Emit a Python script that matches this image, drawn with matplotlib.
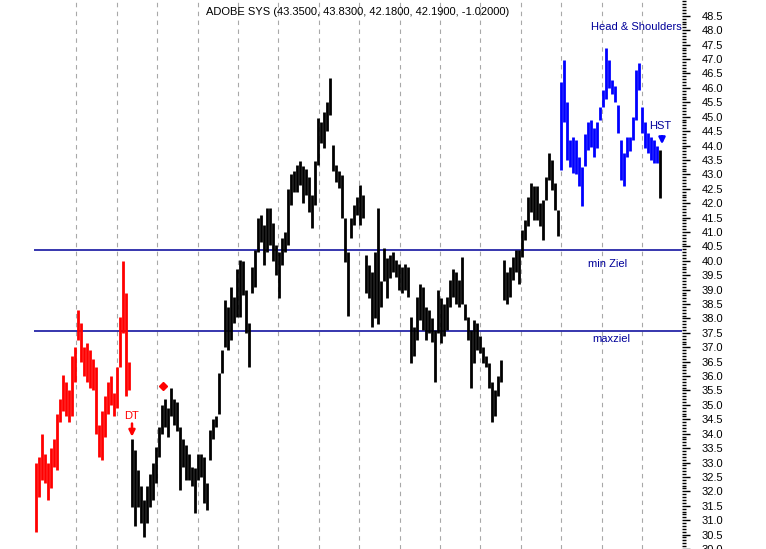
import numpy as np
import matplotlib.pyplot as plt
from matplotlib.ticker import MultipleLocator, FixedLocator, FormatStrFormatter

plt.rcParams['font.family'] = ['Liberation Sans', 'DejaVu Sans']

# daily low / high, one bar per entry
# red part (double top)
red_lows = [30.6, 31.8, 32.4, 32.3, 31.7, 32.1, 32.85, 32.75, 34.4, 34.8,
            34.6, 34.4, 34.6, 35.8, 37.26, 36.5, 36.0, 35.8, 35.6, 35.5,
            34.0, 33.2, 33.1, 33.9, 34.7, 35.0, 34.6, 34.9, 36.3, 37.5,
            35.3, 35.5]
red_highs = [33.0, 33.2, 34.0, 33.3, 33.0, 33.5, 33.8, 34.7, 35.2, 36.05,
             35.8, 35.5, 36.7, 37.0, 38.3, 37.85, 37.0, 37.15, 36.9, 36.6,
             36.3, 34.3, 34.8, 35.3, 35.8, 36.0, 35.4, 36.3, 38.05, 40.0,
             38.9, 36.5]

# black middle part
mid_lows = [31.45, 30.8, 31.45, 30.9, 30.4, 30.9, 31.45, 31.7, 32.3, 33.2,
            34.0, 34.25, 33.9, 34.6, 34.3, 34.1, 32.06, 32.85, 32.4, 32.4,
            32.2, 31.25, 32.4, 32.5, 31.6, 31.36, 33.1, 33.8, 34.25, 34.7,
            36.1, 37.0, 36.9, 37.26, 37.85, 38.05, 38.05, 38.8, 37.5, 36.3,
            38.9, 39.1, 40.3, 40.66, 39.86, 40.3, 40.55, 40.0, 39.5, 38.7,
            39.86, 40.3, 40.55, 41.95, 42.4, 42.4, 42.64, 42.0, 42.3, 41.7,
            41.15, 41.95, 43.33, 44.1, 43.9, 44.5, 45.06, 43.1, 42.74, 42.53,
            41.5, 39.97, 38.1, 40.8, 41.25, 41.6, 41.25, 41.5, 38.9, 38.7,
            37.7, 38.0, 37.8, 38.4, 39.3, 38.7, 39.4, 39.6, 39.45, 39.0,
            38.9, 39.0, 38.75, 36.45, 36.7, 37.26, 37.95, 37.6, 37.26, 37.5,
            37.2, 35.8, 37.5, 37.15, 37.4, 37.6, 38.4, 38.75, 38.5, 38.4,
            38.5, 37.95, 37.26, 35.6, 36.45, 36.9, 36.8, 36.45, 36.3, 35.6,
            34.4, 34.6, 35.3, 35.8, 38.65, 38.5, 38.75, 39.34, 39.6, 39.2,
            40.14, 40.73, 41.2, 41.7, 41.4, 41.4, 41.2, 40.73, 42.1, 42.8,
            42.46, 41.77, 40.85]
mid_highs = [33.8, 33.45, 32.75, 32.2, 31.7, 32.2, 32.6, 33.0, 33.55, 34.25,
             35.0, 35.2, 34.9, 35.6, 35.2, 35.1, 34.25, 33.8, 33.6, 33.3,
             32.85, 32.8, 33.3, 33.3, 33.2, 32.3, 34.14, 34.5, 34.6, 36.1,
             36.9, 38.65, 38.4, 39.1, 38.75, 39.7, 40.04, 40.0, 39.0, 37.85,
             39.8, 40.38, 41.5, 41.6, 41.25, 41.84, 41.84, 41.3, 40.55, 40.3,
             40.8, 41.0, 42.5, 43.0, 43.1, 43.33, 43.45, 43.3, 43.2, 42.9,
             42.3, 43.45, 44.96, 44.8, 45.17, 45.5, 46.35, 44.03, 43.33, 43.1,
             42.98, 41.5, 40.3, 41.5, 41.95, 42.2, 42.64, 42.3, 40.2, 39.86,
             39.6, 40.3, 41.84, 39.3, 40.45, 40.1, 40.2, 40.3, 40.04, 39.9,
             39.8, 39.9, 39.8, 38.05, 37.7, 38.75, 39.2, 39.1, 38.4, 38.3,
             38.0, 37.6, 38.99, 38.7, 38.5, 38.75, 39.34, 39.7, 39.6, 39.34,
             40.14, 38.5, 38.05, 37.6, 37.95, 37.85, 37.4, 37.0, 36.7, 36.45,
             35.8, 35.5, 36.0, 36.57, 40.04, 39.6, 39.8, 40.14, 40.38, 40.38,
             41.08, 41.42, 42.2, 42.7, 42.6, 42.6, 42.0, 42.1, 42.9, 43.75,
             43.5, 42.7, 41.77]

# blue part (head & shoulders)
hs_lows = [43.16, 44.8, 43.5, 43.27, 43.05, 43.0, 42.6, 41.9, 43.3, 43.85,
           43.95, 43.6, 43.9, 44.9, 45.34, 45.6, 46.0, 45.8, 45.5, 44.44,
           42.8, 42.6, 43.6, 43.8, 44.2, 44.9, 45.93, 44.44, 43.9, 43.75,
           43.5, 43.4, 43.4]
hs_highs = [46.2, 46.97, 45.5, 44.2, 44.3, 44.2, 43.6, 43.25, 44.4, 44.8,
            44.9, 44.6, 44.8, 45.34, 45.93, 47.4, 46.97, 46.28, 46.05, 45.4,
            44.2, 43.75, 44.3, 44.3, 45.0, 46.63, 46.87, 45.34, 44.8, 44.44,
            44.3, 44.2, 44.0]

# last bar: O 43.35 H 43.83 L 42.18 C 42.19
last_low = [42.18]
last_high = [43.83]

min_ziel = 40.38
max_ziel = 37.57

lows = red_lows + mid_lows + hs_lows + last_low
highs = red_highs + mid_highs + hs_highs + last_high
colors = (['#ff0000'] * len(red_lows) + ['black'] * len(mid_lows)
          + ['#0000ff'] * len(hs_lows) + ['black'] * len(last_low))
x = np.arange(len(lows))

fig = plt.figure(figsize=(7.66, 5.49), dpi=100)
ax = fig.add_axes([34 / 766, 0, (682 - 34) / 766, 1])

# vertical dashed grid
for k in range(1, 17):
    ax.axvline(13.467 * k, color='#a8a8a8', lw=0.8, ls=(0, (4, 4)), zorder=0)

ax.axhline(min_ziel, color='#000099', lw=1.1, zorder=1)
ax.axhline(max_ziel, color='#000099', lw=1.1, zorder=1)

ax.vlines(x, lows, highs, colors=colors, linewidth=2.0, zorder=2)

ax.set_xlim(-2 / 3, 215.33)
ax.set_ylim(30.0, 49.05)

ax.yaxis.tick_right()
ax.yaxis.set_major_locator(FixedLocator(np.arange(30.0, 48.51, 0.5)))
ax.yaxis.set_minor_locator(MultipleLocator(0.1))
ax.yaxis.set_major_formatter(FormatStrFormatter('%.1f'))
ax.tick_params(axis='y', which='major', length=6, width=1, pad=8, labelsize=8)
ax.tick_params(axis='y', which='minor', length=3, width=1)
ax.set_xticks([])
for s in ['left', 'top', 'bottom', 'right']:
    ax.spines[s].set_visible(False)

# annotations
ax.text(31.67, 34.63, 'DT', color='#ff0000', fontsize=8, ha='center', va='center')
ax.annotate('', xy=(32, 33.8), xytext=(32, 34.45),
            arrowprops=dict(arrowstyle='-|>', color='#ff0000', lw=1.8, mutation_scale=9))
ax.plot([42.33], [35.67], marker='D', color='#ff0000', markersize=4.5)
ax.text(208, 44.68, 'HST', color='#000099', fontsize=8, ha='center', va='center')
ax.annotate('', xy=(208.67, 43.95), xytext=(208.67, 44.42),
            arrowprops=dict(arrowstyle='-|>', color='#0000ff', lw=1.8, mutation_scale=9))
ax.text(190.67, 39.9, 'min Ziel', color='#000099', fontsize=8, ha='center', va='center')
ax.text(191.67, 37.3, 'maxziel', color='#000099', fontsize=8, ha='center', va='center')
ax.text(215.33, 48.12, 'Head & Shoulders', color='#000099', fontsize=8, ha='right', va='center')

fig.text(358 / 766, 1 - 12 / 549, 'ADOBE SYS (43.3500, 43.8300, 42.1800, 42.1900, -1.02000)',
         fontsize=8, ha='center', va='center')

fig.savefig('out.png', dpi=100)
